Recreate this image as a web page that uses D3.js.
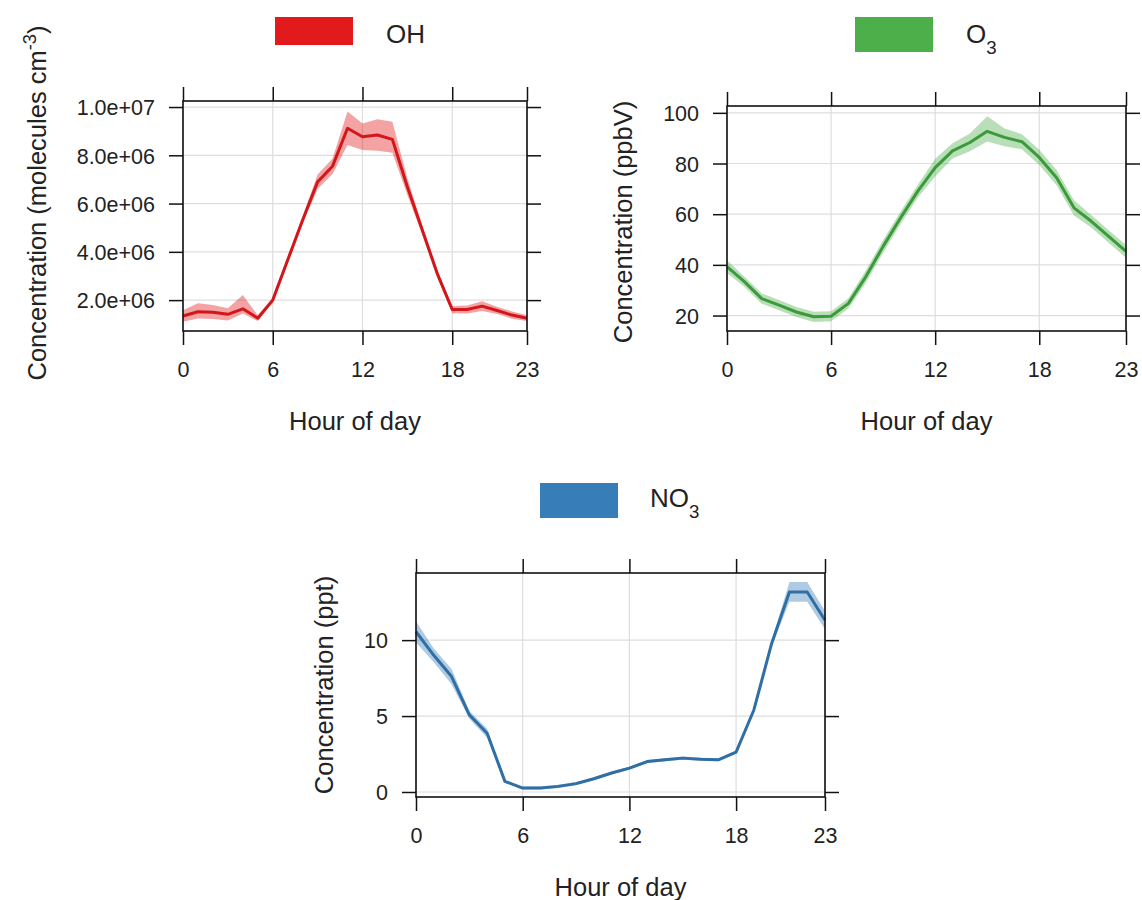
<!DOCTYPE html>
<html>
<head>
<meta charset="utf-8">
<script src="https://cdn.jsdelivr.net/npm/d3@7/dist/d3.min.js"></script>
<style>
  body { margin: 0; background: #fff; }
  text { font-family: "Liberation Sans", Arial, sans-serif; fill: #222; }
</style>
</head>
<body>
<svg id="chart" width="1142" height="900"></svg>
<script>
// Hour of day (x categories) and the ticks shown on every panel
const hours = [0, 1, 2, 3, 4, 5, 6, 7, 8, 9, 10, 11, 12, 13, 14, 15, 16, 17, 18, 19, 20, 21, 22, 23];
const hourTicks = [0, 6, 12, 18, 23];

// OH (molecules cm^-3): mean diurnal cycle and its uncertainty band
const ohMean  = [1.34e6, 1.52e6, 1.50e6, 1.41e6, 1.64e6, 1.25e6, 2.00e6, 3.66e6, 5.32e6, 6.90e6, 7.55e6, 9.12e6,
                 8.77e6, 8.84e6, 8.66e6, 6.70e6, 4.90e6, 3.10e6, 1.61e6, 1.61e6, 1.75e6, 1.57e6, 1.38e6, 1.25e6];
const ohLower = [1.10e6, 1.24e6, 1.22e6, 1.16e6, 1.45e6, 1.13e6, 1.90e6, 3.51e6, 5.17e6, 6.60e6, 7.23e6, 8.43e6,
                 8.22e6, 8.19e6, 8.11e6, 6.35e6, 4.70e6, 2.95e6, 1.46e6, 1.44e6, 1.55e6, 1.42e6, 1.23e6, 1.13e6];
const ohUpper = [1.58e6, 1.87e6, 1.80e6, 1.66e6, 2.21e6, 1.37e6, 2.10e6, 3.81e6, 5.47e6, 7.20e6, 7.87e6, 9.81e6,
                 9.32e6, 9.49e6, 9.39e6, 7.05e6, 5.10e6, 3.25e6, 1.76e6, 1.78e6, 1.95e6, 1.72e6, 1.53e6, 1.37e6];
const ohTicks = [2e6, 4e6, 6e6, 8e6, 1e7];
const ohTickLabels = ["2.0e+06", "4.0e+06", "6.0e+06", "8.0e+06", "1.0e+07"];
const ohLimits = [0.72e6, 1.025e7];

// O3 (ppbV)
const o3Mean  = [39.3, 33.4, 26.7, 24.1, 21.4, 19.5, 19.7, 24.8, 35.3, 47.3, 58.5, 69.1,
                 78.4, 85.0, 88.3, 92.7, 90.3, 88.6, 82.4, 74.4, 62.5, 57.2, 51.2, 45.3];
const o3Lower = [36.8, 31.4, 24.7, 22.1, 19.4, 17.5, 17.7, 22.8, 32.8, 44.8, 56.0, 66.6,
                 74.9, 82.0, 84.8, 88.7, 86.8, 85.6, 79.4, 71.4, 59.5, 54.7, 48.7, 42.8];
const o3Upper = [41.8, 35.4, 28.7, 26.1, 23.4, 21.5, 21.7, 26.8, 37.8, 49.8, 61.0, 71.6,
                 81.9, 88.0, 91.8, 98.7, 93.8, 91.6, 85.4, 77.4, 65.5, 59.7, 53.7, 47.8];
const o3Ticks = [20, 40, 60, 80, 100];
const o3TickLabels = ["20", "40", "60", "80", "100"];
const o3Limits = [13.9, 102.7];

// NO3 (ppt)
const no3Mean  = [10.55, 9.00, 7.60, 5.08, 3.87, 0.70, 0.26, 0.26, 0.37, 0.55, 0.87, 1.25,
                  1.57, 2.00, 2.12, 2.23, 2.16, 2.12, 2.63, 5.40, 9.78, 13.17, 13.17, 11.31];
const no3Lower = [9.85, 8.55, 7.10, 4.83, 3.57, 0.60, 0.16, 0.16, 0.27, 0.45, 0.77, 1.15,
                  1.47, 1.90, 2.02, 2.13, 2.06, 2.02, 2.53, 5.25, 9.58, 12.52, 12.52, 10.71];
const no3Upper = [11.25, 9.45, 8.10, 5.33, 4.17, 0.80, 0.36, 0.36, 0.47, 0.65, 0.97, 1.35,
                  1.67, 2.10, 2.22, 2.33, 2.26, 2.22, 2.73, 5.55, 9.98, 13.82, 13.82, 11.91];
const no3Ticks = [0, 5, 10];
const no3TickLabels = ["0", "5", "10"];
const no3Limits = [-0.33, 14.42];

// Panel layout and styling
const panels = [
  {
    mean: ohMean, lower: ohLower, upper: ohUpper,
    yTicks: ohTicks, yTickLabels: ohTickLabels, yLimits: ohLimits,
    color: "#e31a1c", lineColor: "#d31619",
    box: { left: 183, right: 527, top: 101, bottom: 331 },
    yTitle: [{ t: "Concentration (molecules cm" }, { t: "-3", sup: true }, { t: ")" }],
    yTitleX: 46, yTitleY: 203,
    legend: { x: 275, y: 17, w: 78, h: 28, tx: 386, ty: 43, label: [{ t: "OH" }] }
  },
  {
    mean: o3Mean, lower: o3Lower, upper: o3Upper,
    yTicks: o3Ticks, yTickLabels: o3TickLabels, yLimits: o3Limits,
    color: "#4daf4a", lineColor: "#3b9a3a",
    box: { left: 727, right: 1126, top: 106, bottom: 331 },
    yTitle: [{ t: "Concentration (ppbV)" }],
    yTitleX: 632, yTitleY: 222,
    legend: { x: 855, y: 17, w: 78, h: 35, tx: 966, ty: 43, label: [{ t: "O" }, { t: "3", sub: true }] }
  },
  {
    mean: no3Mean, lower: no3Lower, upper: no3Upper,
    yTicks: no3Ticks, yTickLabels: no3TickLabels, yLimits: no3Limits,
    color: "#377eb8", lineColor: "#2f6fa6",
    box: { left: 416, right: 825, top: 573, bottom: 797 },
    yTitle: [{ t: "Concentration (ppt)" }],
    yTitleX: 333, yTitleY: 685,
    legend: { x: 540, y: 483, w: 78, h: 35, tx: 650, ty: 507, label: [{ t: "NO" }, { t: "3", sub: true }] }
  }
];

const svg = d3.select("#chart");
const TICK = 14;
const TICK_FONT = 21.5;
const TITLE_FONT = 25.5;

function addRich(textSel, parts) {
  parts.forEach(p => {
    const ts = textSel.append("tspan").text(p.t);
    if (p.sup) ts.attr("baseline-shift", "super").attr("font-size", "0.72em");
    if (p.sub) ts.attr("baseline-shift", "sub").attr("font-size", "0.72em");
  });
}

panels.forEach(p => {
  const b = p.box;
  const x = d3.scaleLinear().domain([0, 23]).range([b.left, b.right]);
  const y = d3.scaleLinear().domain(p.yLimits).range([b.bottom, b.top]);
  const g = svg.append("g");

  // reference grid
  g.append("g").selectAll("line").data(hourTicks).join("line")
    .attr("x1", d => x(d)).attr("x2", d => x(d))
    .attr("y1", b.top).attr("y2", b.bottom)
    .attr("stroke", "#dedede").attr("stroke-width", 1.2);
  g.append("g").selectAll("line").data(p.yTicks).join("line")
    .attr("x1", b.left).attr("x2", b.right)
    .attr("y1", d => y(d)).attr("y2", d => y(d))
    .attr("stroke", "#dedede").attr("stroke-width", 1.2);

  const rows = hours.map((h, i) => ({ h, m: p.mean[i], lo: p.lower[i], hi: p.upper[i] }));

  // uncertainty band and mean line
  g.append("path").datum(rows)
    .attr("d", d3.area().x(d => x(d.h)).y0(d => y(d.lo)).y1(d => y(d.hi)))
    .attr("fill", p.color).attr("fill-opacity", 0.4);
  g.append("path").datum(rows)
    .attr("d", d3.line().x(d => x(d.h)).y(d => y(d.m)))
    .attr("fill", "none").attr("stroke", p.lineColor).attr("stroke-width", 3)
    .attr("stroke-linejoin", "round");

  // frame
  g.append("rect").attr("x", b.left).attr("y", b.top)
    .attr("width", b.right - b.left).attr("height", b.bottom - b.top)
    .attr("fill", "none").attr("stroke", "#111").attr("stroke-width", 1.6);

  // axes on all four sides, labels bottom and left
  const axB = g.append("g").attr("transform", `translate(0,${b.bottom})`)
    .call(d3.axisBottom(x).tickValues(hourTicks).tickSize(TICK).tickFormat(d3.format("d")));
  const axT = g.append("g").attr("transform", `translate(0,${b.top})`)
    .call(d3.axisTop(x).tickValues(hourTicks).tickSize(TICK).tickFormat(""));
  const axL = g.append("g").attr("transform", `translate(${b.left},0)`)
    .call(d3.axisLeft(y).tickValues(p.yTicks).tickSize(TICK)
      .tickFormat((d, i) => p.yTickLabels[i]));
  const axR = g.append("g").attr("transform", `translate(${b.right},0)`)
    .call(d3.axisRight(y).tickValues(p.yTicks).tickSize(TICK).tickFormat(""));

  [axB, axT, axL, axR].forEach(a => {
    a.select(".domain").remove();
    a.selectAll(".tick line").attr("stroke", "#111").attr("stroke-width", 1.5);
    a.selectAll("text").attr("font-family", null).attr("font-size", TICK_FONT).attr("fill", "#222");
  });
  axB.selectAll(".tick text").attr("y", 46).attr("dy", null);
  axL.selectAll(".tick text").attr("x", -28).attr("dy", "0.36em");

  // axis titles
  g.append("text").attr("x", (b.left + b.right) / 2).attr("y", b.bottom + 99)
    .attr("text-anchor", "middle").attr("font-size", TITLE_FONT).text("Hour of day");
  const yt = g.append("text")
    .attr("transform", `translate(${p.yTitleX},${p.yTitleY}) rotate(-90)`)
    .attr("text-anchor", "middle").attr("font-size", TITLE_FONT);
  addRich(yt, p.yTitle);

  // key
  const L = p.legend;
  g.append("rect").attr("x", L.x).attr("y", L.y).attr("width", L.w).attr("height", L.h)
    .attr("fill", p.color);
  const lt = g.append("text").attr("x", L.tx).attr("y", L.ty).attr("font-size", 26);
  addRich(lt, L.label);
});
</script>
</body>
</html>
